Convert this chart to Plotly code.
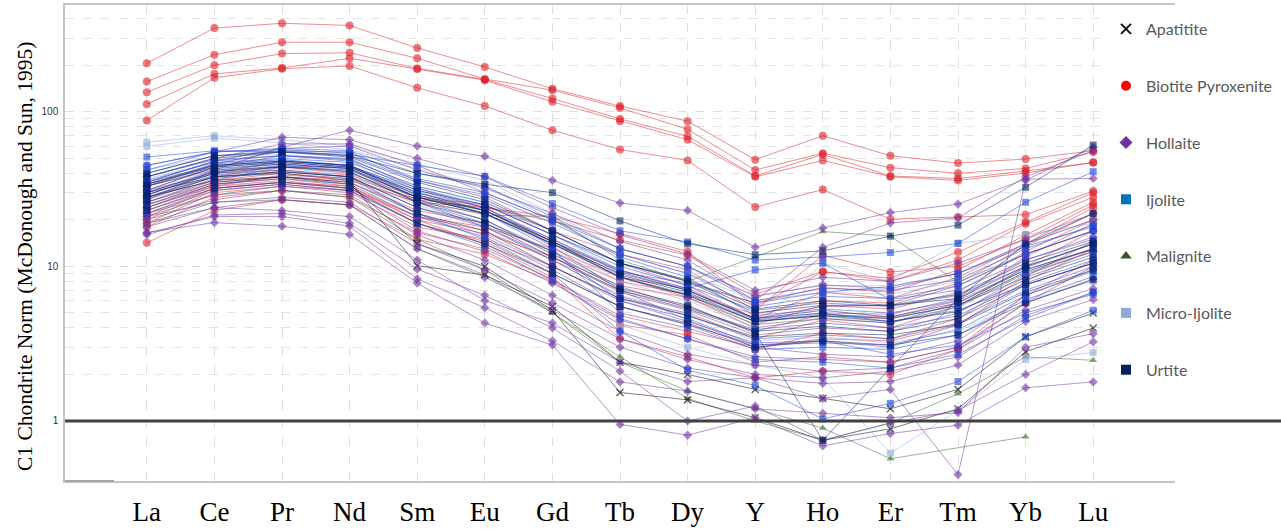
import math
import plotly.graph_objects as go

# ---------------- data ----------------
elements = ["La", "Ce", "Pr", "Nd", "Sm", "Eu", "Gd", "Tb", "Dy", "Y", "Ho", "Er", "Tm", "Yb", "Lu"]

apatitite = [
    [30, 38, 40, 36, 10.1, 8.8, 5.5, 2.4, 2.0, 1.6, 1.4, 1.2, 1.6, 3.5, 5.0],
    [28, 36, 38, 34, 14, 10, 5.2, 1.53, 1.37, 1.05, 0.75, 0.89, 1.2, 2.8, 4.0],
    [34, 44, 47, 44, 29, 23, 14.5, 8.5, 6.5, 4.4, 4.8, 4.6, 5.6, 9.2, 13],
]

biotite_pyroxenite = [
    [206, 348, 374, 362, 259, 195, 141, 109, 87, 49, 70, 52, 46.6, 49.5, 56],
    [157, 234, 282, 282, 222, 163, 138, 106, 77, 42, 54, 43.5, 40, 43, 55],
    [134, 200, 238, 241, 191, 162, 122, 90, 69.5, 38.5, 53, 38.5, 37, 41.4, 47],
    [112, 176, 192, 222, 189, 160, 116, 87, 66, 38, 48.5, 38, 36, 40.2, 47],
    [88, 166, 190, 198, 143, 109, 76, 57, 48.5, 24.2, 31.4, 20.2, 20.9, 21.6, 30.7],
    [14.2, 23, 27, 25, 15, 12, 8, 4.2, 3.6, 2.4, 2.6, 2.4, 3.0, 6.5, 11],
    [22, 32, 35, 33, 21, 18, 13, 8.5, 7.2, 4.6, 6.8, 6.2, 8.5, 14, 24],
    [25, 34, 38, 36, 26, 24, 21, 16.3, 12.5, 5.5, 9.2, 8.4, 12.4, 19.4, 30],
    [19, 30, 33, 30, 18, 15, 10, 6.2, 5.0, 3.4, 4.5, 4.0, 5.5, 10, 17],
    [28, 36, 40, 37, 26, 22, 14.5, 9.2, 7.8, 5.8, 7.3, 6.8, 9.5, 16, 26],
    [23, 33, 36, 32, 20, 16.3, 11.5, 7.5, 6.3, 4.2, 5.6, 5.3, 6.8, 12.5, 20],
    [31, 40, 42, 39, 27, 24, 19.7, 14.8, 11.8, 6.6, 9.3, 8.0, 11, 18.9, 28],
    [20, 31, 34, 31, 19, 14.5, 9, 5.5, 4.2, 2.9, 3.7, 3.4, 4.6, 8.6, 14.5],
    [26, 35, 38, 35, 23, 19, 12.5, 8.0, 6.6, 4.9, 6.0, 5.8, 7.8, 13.5, 22],
    [18, 28, 31, 28, 16.5, 13, 8.2, 4.8, 3.8, 3.0, 3.4, 3.3, 4.2, 8.0, 13],
    [24, 34, 37, 33, 20, 14, 8.5, 3.4, 2.6, 1.9, 2.1, 2.0, 2.9, 5.8, 10],
    [33, 42, 44, 40, 28, 25, 17, 12, 9.5, 5.2, 11.8, 9.2, 10, 15, 25],
    [21, 32, 35, 32, 21, 17, 11, 7.0, 5.5, 3.8, 4.9, 4.7, 6.0, 11.5, 19],
]

hollaite = [
    [27, 42, 59, 76, 60, 51.5, 36, 25.7, 23, 13.3, 17.7, 22.3, 25.3, 36.7, 37],
    [16.6, 19.2, 18.2, 16.1, 7.8, 4.3, 3.1, 0.95, 0.81, 1.05, 0.69, 0.83, 0.94, 1.64, 1.79],
    [19, 24, 23, 21, 11, 6.0, 4.3, 2.4, 1.8, 1.9, 1.4, 1.6, 0.45, 36, 59],
    [16.4, 21, 21, 18.2, 8.3, 5.4, 3.3, 1.79, 1.56, 1.2, 1.12, 1.05, 1.13, 3.0, 3.67],
    [45, 55, 68.5, 66, 50, 38, 24, 16, 12, 7.0, 8.5, 8.0, 10.5, 15, 22],
    [38, 50, 62, 62, 45, 30, 20, 13, 10, 6.4, 7.6, 7.2, 9.0, 14, 20],
    [33, 46, 56, 55, 36, 28, 17, 10.5, 7.5, 4.6, 5.5, 5.6, 7.5, 12, 17],
    [29, 40, 48, 45, 28, 22, 14, 8.5, 6.3, 4.0, 4.6, 4.3, 5.8, 9.8, 14],
    [24, 33, 39, 37, 22, 16, 10, 6.0, 4.4, 3.2, 3.3, 3.0, 4.2, 7.6, 10.5],
    [20, 27, 31, 29, 16, 11, 6.5, 3.8, 2.7, 2.3, 2.1, 2.2, 2.9, 5.2, 7.2],
    [22, 29, 33, 31, 17, 12.5, 7.8, 4.5, 3.4, 2.6, 2.5, 2.4, 3.0, 5.8, 8.3],
    [35, 48, 58, 60, 42, 32, 22, 14.5, 11, 6.0, 13.3, 19.1, 20.6, 38, 56],
    [28, 38, 45, 43, 26, 18, 11.5, 6.8, 5.2, 3.6, 4.0, 3.8, 5.0, 8.8, 12.5],
    [18, 24, 27, 25, 13, 8.5, 5.2, 3.0, 2.2, 1.9, 1.75, 1.8, 2.3, 4.4, 6.1],
    [31, 44, 52, 50, 32, 24, 15, 9.2, 7.0, 4.5, 5.0, 4.9, 6.2, 11, 15.5],
    [21, 26, 28, 26, 14, 9.5, 5.8, 3.4, 2.5, 2.0, 1.9, 2.1, 2.6, 4.8, 6.8],
    [16, 21.5, 22, 19, 9.6, 6.5, 4.0, 2.1, 1.0, 1.25, 0.75, 0.97, 1.17, 2.0, 3.25],
    [26, 36, 44, 44, 30, 24, 13.5, 7.0, 4.5, 3.0, 2.7, 2.6, 3.3, 6.5, 9.5],
]

ijolite = [
    [51, 56, 55, 53, 45, 38.3, 25.5, 17, 14.4, 11.0, 11.5, 12.3, 14.1, 26, 41],
    [36, 47, 50, 47, 32, 25, 16, 10, 7.5, 5.2, 5.8, 5.5, 6.5, 10, 14],
    [30, 42, 46, 43, 28, 22, 14, 8.6, 6.6, 4.4, 4.9, 4.6, 5.6, 8.5, 12],
    [40, 52, 56, 52, 36, 29, 19, 12, 9.0, 5.5, 6.4, 6.2, 7.5, 12, 17],
    [26, 37, 41, 38, 24, 18, 11, 6.4, 4.8, 3.4, 3.6, 3.4, 4.3, 7.0, 10],
    [33, 45, 48, 45, 29, 22, 13, 5.0, 4.0, 2.9, 3.0, 2.9, 3.6, 6.1, 8.6],
    [42, 55, 57, 54, 37, 30, 20, 11.5, 8.5, 4.8, 5.3, 5.0, 6.0, 9.5, 13],
    [28, 39, 42, 38, 22, 15, 9.0, 3.8, 2.13, 1.7, 1.03, 1.3, 1.8, 3.5, 5.2],
    [35, 48, 52, 49, 33, 26, 17, 10.5, 8.0, 5.8, 6.8, 7.4, 9.0, 13.5, 18],
    [24, 34, 37, 34, 21, 15.5, 9.5, 5.5, 4.2, 3.1, 3.2, 3.1, 3.9, 6.5, 9.3],
    [31, 44, 47, 44, 30, 23, 15, 9.5, 7.0, 4.6, 5.0, 4.4, 5.2, 7.6, 10.5],
    [45, 55, 58, 56, 40, 33, 21, 13, 10, 6.0, 7.2, 7.0, 8.2, 13, 18.5],
    [22, 31, 34, 31, 19, 13.5, 8.2, 4.6, 3.4, 2.5, 2.4, 2.2, 2.7, 4.6, 6.8],
    [38, 49, 52, 48, 31, 24, 14.5, 9.4, 7.2, 9.5, 10.5, 6.1, 7.0, 11, 15],
    [29, 41, 45, 41, 26, 19, 12.5, 7.4, 5.4, 3.9, 4.3, 4.0, 4.8, 7.8, 11],
    [34, 46, 49, 45, 27, 20, 12.5, 6.0, 4.6, 3.1, 3.3, 2.7, 3.1, 5.0, 6.6],
]

malignite = [
    [28, 38, 41, 38, 27, 21.5, 21, 11, 8.0, 11.5, 16.8, 15.7, 7.9, 12, 17],
    [21, 29, 31, 28, 15, 9.5, 5.0, 2.6, 1.4, 1.0, 0.75, 0.97, 1.5, 2.6, 2.47],
    [19, 26, 27, 25, 13, 8.8, 5.0, 2.4, 1.56, 1.2, 0.9, 0.57, None, 0.79, None],
    [35, 45, 48, 45, 30, 23, 14, 8.5, 6.5, 4.2, 4.6, 4.3, 5.5, 9.0, 12.5],
]

micro_ijolite = [
    [63.6, 70, 66, 60, 46, 36, 22, 13, 10, 6.5, 7.5, 7.5, 9.0, 14, 20],
    [59.8, 67.5, 63, 57, 43, 33, 20, 12, 9.0, 6.0, 6.8, 6.6, 8.0, 12, 17],
    [42, 52, 53, 49, 33, 26, 16, 9.5, 7.2, 4.5, 4.7, 4.4, 5.4, 9.0, 12.5],
    [25, 33, 35, 32, 19, 14, 8.0, 4.2, 3.0, 2.3, 1.9, 0.62, 1.17, 2.5, 2.77],
    [37, 47, 49, 45, 29, 22, 13.5, 8.0, 6.0, 4.0, 10.5, 8.0, 14.1, 16, 19],
    [30, 40, 43, 40, 25, 18.5, 11, 6.5, 4.9, 3.3, 3.5, 3.2, 3.8, 6.0, 8.0],
]

urtite = [
    [38, 50, 55, 52, 40, 34, 30, 19.7, 14, 11.9, 12.6, 15.7, 18.5, 32.5, 61],
    [30, 41, 44, 42, 28, 22, 14, 9.0, 7.0, 4.6, 5.2, 4.7, 5.8, 9.5, 13],
    [34, 45, 48, 45, 31, 25, 16, 10.5, 8.2, 5.3, 6.0, 5.6, 6.6, 10.5, 14.5],
    [27, 38, 41, 38, 24, 19, 11.5, 7.0, 5.3, 3.8, 4.1, 3.8, 4.6, 7.6, 10.5],
    [40, 52, 55, 51, 35, 27, 17, 10.5, 8.0, 5.0, 5.6, 5.6, 6.2, 10, 14],
    [25, 35, 38, 35, 22, 17, 10, 6.2, 4.8, 3.5, 3.7, 3.6, 4.2, 6.8, 9.5],
    [29, 40, 44, 41, 26, 20, 12, 7.2, 5.6, 3.7, 0.75, 2.2, 6.2, 14, 22],
    [33, 43, 46, 43, 28, 23, 14.5, 8.8, 6.8, 4.4, 4.8, 4.4, 5.1, 8.2, 11.5],
    [23, 32, 35, 32, 19, 14, 9.0, 5.5, 4.3, 3.0, 3.3, 3.1, 3.6, 5.8, 8.2],
]

# ---------------- styles ----------------
styles = {
    "Apatitite": dict(sym="x-thin", rgb=(0, 0, 0), legend="#111111", size=7),
    "Biotite Pyroxenite": dict(sym="circle", rgb=(222, 30, 40), legend="#ff0000", size=8),
    "Hollaite": dict(sym="diamond", rgb=(112, 48, 160), legend="#7030a0", size=7),
    "Ijolite": dict(sym="square", rgb=(25, 65, 215), legend="#0070c0", size=7),
    "Malignite": dict(sym="triangle-up", rgb=(55, 110, 40), legend="#375623", size=7),
    "Micro-Ijolite": dict(sym="square", rgb=(142, 169, 219), legend="#8eaadb", size=7),
    "Urtite": dict(sym="square", rgb=(0, 32, 96), legend="#002060", size=7),
}
legend_order = ["Apatitite", "Biotite Pyroxenite", "Hollaite", "Ijolite",
                "Malignite", "Micro-Ijolite", "Urtite"]
draw_order = [("Biotite Pyroxenite", biotite_pyroxenite), ("Malignite", malignite),
              ("Apatitite", apatitite), ("Micro-Ijolite", micro_ijolite),
              ("Hollaite", hollaite), ("Ijolite", ijolite), ("Urtite", urtite)]

fig = go.Figure()

# legend entries (marker only)
for name in legend_order:
    st = styles[name]
    mk = dict(symbol=st["sym"], color=st["legend"], size=10)
    if st["sym"] == "x-thin":
        mk["line"] = dict(width=2, color=st["legend"])
    fig.add_trace(go.Scatter(x=[None], y=[None], mode="markers", name=name,
                             legendgroup=name, showlegend=True, marker=mk,
                             hoverinfo="skip"))

for name, rows in draw_order:
    st = styles[name]
    r, g, b = st["rgb"]
    for row in rows:
        mk = dict(symbol=st["sym"], size=st["size"], color=f"rgba({r},{g},{b},0.6)")
        if st["sym"] == "x-thin":
            mk["line"] = dict(width=1.5, color=f"rgba({r},{g},{b},0.6)")
        else:
            mk["line"] = dict(width=0)
        fig.add_trace(go.Scatter(
            x=elements, y=row, mode="lines+markers", name=name, legendgroup=name,
            showlegend=False, connectgaps=True,
            line=dict(color=f"rgba({r},{g},{b},0.5)", width=1),
            marker=mk))

# ---------------- layout ----------------
W, H = 1281, 531
ml, mr, mt, mb = 65, 106, 5, 50
pw, ph = W - ml - mr, H - mt - mb
ymin, ymax = math.log10(0.409), math.log10(491)

def px_x(p):
    return (p - ml) / pw

def px_y(p):
    return (H - mb - p) / ph

minor_vals = [v * 10 ** k for k in range(0, 3) for v in range(2, 10) if v * 10 ** k < 480]

fig.update_layout(
    width=W, height=H, margin=dict(l=ml, r=mr, t=mt, b=mb, autoexpand=False),
    paper_bgcolor="white", plot_bgcolor="white",
    showlegend=True,
    legend=dict(x=px_x(1106), y=px_y(12), xanchor="left", yanchor="top",
                bgcolor="white", borderwidth=0, traceorder="grouped",
                tracegroupgap=33, itemwidth=30,
                font=dict(family="Lato", size=16, color="#595959")),
    xaxis=dict(type="category", range=[-1.21, 15.21], showgrid=True, automargin=False,
               gridcolor="#dedede", griddash="dash", gridwidth=1,
               showline=True, mirror=True, linecolor="#c4c4c4", linewidth=1.5,
               ticks="", ticklabelstandoff=6, zeroline=False,
               tickfont=dict(family="Liberation Serif", size=27, color="black")),
    yaxis=dict(type="log", range=[ymin, ymax], tickmode="array", automargin=False,
               tickvals=[1, 10, 100], ticktext=["1", "10", "100"],
               showgrid=True, gridcolor="#dedede", griddash="dash", gridwidth=1,
               minor=dict(tickmode="array", tickvals=minor_vals, showgrid=True,
                          gridcolor="#e4e4e4", griddash="dash", gridwidth=1, ticks=""),
               showline=True, linecolor="#c4c4c4", linewidth=1.5, ticks="",
               zeroline=False, ticklabelstandoff=3,
               tickfont=dict(family="Liberation Sans", size=10, color="#333333")),
    font=dict(family="Liberation Sans"),
    annotations=[dict(text="C1 Chondrite Norm (McDonough and Sun, 1995)",
                      xref="paper", yref="paper", x=px_x(25), y=px_y(257),
                      xanchor="center", yanchor="middle", textangle=-90,
                      showarrow=False,
                      font=dict(family="Liberation Serif", size=21.5, color="black"))],
    shapes=[
        dict(type="line", xref="paper", yref="paper", x0=0, x1=px_x(W),
             y0=(0 - ymin) / (ymax - ymin), y1=(0 - ymin) / (ymax - ymin),
             line=dict(color="#404040", width=3), layer="above"),
        dict(type="line", xref="paper", yref="paper", x0=0, x1=px_x(114),
             y0=0, y1=0, line=dict(color="#a8a8a8", width=2), layer="above"),
    ],
)

fig.write_html("out.html")
